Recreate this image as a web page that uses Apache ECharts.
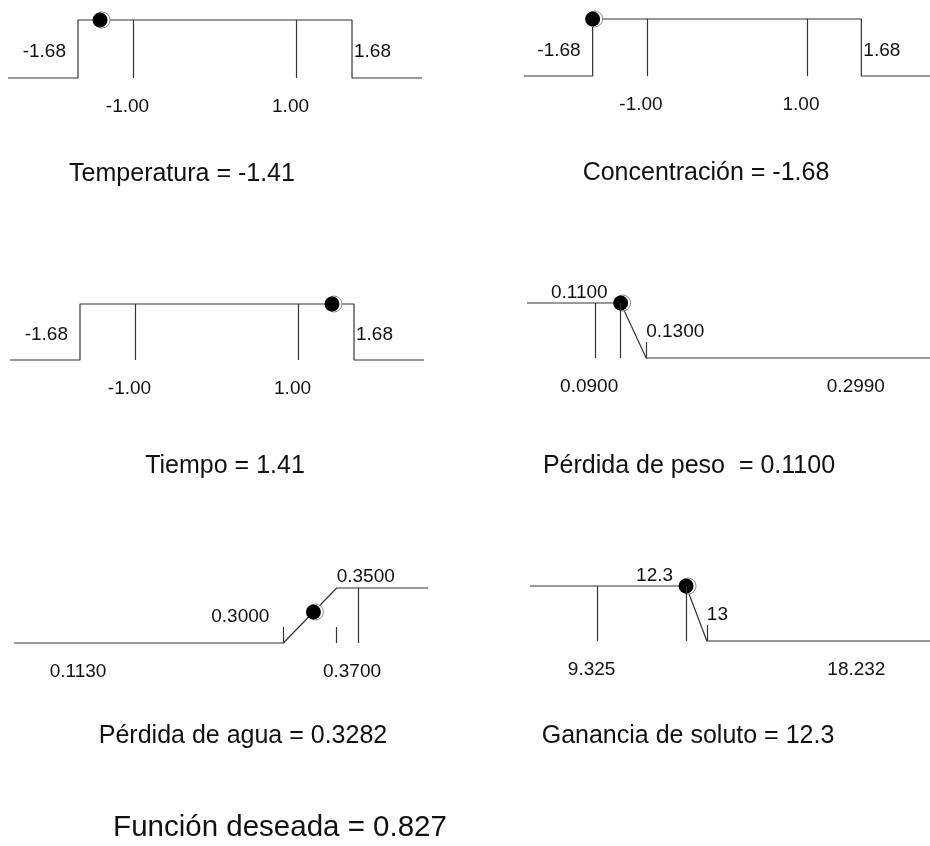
<!DOCTYPE html>
<html>
<head>
<meta charset="utf-8">
<script src="https://cdn.jsdelivr.net/npm/echarts@6/dist/echarts.min.js"></script>
<style>
  html, body { margin: 0; padding: 0; background: #fff; }
  #chart { width: 930px; height: 846px; }
</style>
</head>
<body>
<div id="chart"></div>
<script>
// ---------------- DATA ----------------
const factorNames = ['Temperatura', 'Concentración', 'Tiempo'];
const factorValues = [-1.41, -1.68, 1.41];
const factorValueLabels = ['-1.41', '-1.68', '1.41'];
const factorLimits = [-1.68, 1.68];
const factorLimitLabels = ['-1.68', '1.68'];
const factorLevels = [-1.00, 1.00];
const factorLevelLabels = ['-1.00', '1.00'];

const responseNames = ['Pérdida de peso ', 'Pérdida de agua', 'Ganancia de soluto'];
const responseGoals = ['minimize', 'maximize', 'minimize'];
const responseMin = [0.0900, 0.1130, 9.325];
const responseMax = [0.2990, 0.3700, 18.232];
const responseRangeLabels = [['0.0900', '0.2990'], ['0.1130', '0.3700'], ['9.325', '18.232']];
const responseLower = [0.1100, 0.3000, 12.3];
const responseUpper = [0.1300, 0.3500, 13];
const responseLimitLabels = [['0.1100', '0.1300'], ['0.3000', '0.3500'], ['12.3', '13']];
const responseValues = [0.1100, 0.3282, 12.3];
const responseValueLabels = ['0.1100', '0.3282', '12.3'];
// top (in desirability units) of the vertical marks drawn at lower / upper limits
const responseLimitMarkTops = [[1, 0.29], [0.29, 0.29], [1, 0.29]];

const overallName = 'Función deseada';
const overallValue = '0.827';

// ---------------- LAYOUT / STYLE ----------------
const FONT = '"Liberation Sans", Arial, Helvetica, sans-serif';
const INK = '#333';
const TXT = '#111';
const SPAN = 274, PAD = 70;
const TICK_BELOW = 0.3;
const panels = [
  { ax: 78,  top: 20,  base: 78,  tx: 182, ty: 174 },
  { ax: 594, top: 19,  base: 76,  tx: 706, ty: 173 },
  { ax: 80,  top: 304, base: 360, tx: 225, ty: 466 },
  { ax: 597, top: 303, base: 358, tx: 689, ty: 466 },
  { ax: 84,  top: 588, base: 643, tx: 243, ty: 736 },
  { ax: 600, top: 586, base: 641, tx: 688, ty: 736 }
];

function desir(goal, L, U, y) {
  if (goal === 'minimize') {
    if (y <= L) return 1;
    if (y >= U) return 0;
    return (U - y) / (U - L);
  }
  if (y <= L) return 0;
  if (y >= U) return 1;
  return (y - L) / (U - L);
}

const grids = [], xAxes = [], yAxes = [], series = [], texts = [];

function lbl(x, y, text, align, offset) {
  return {
    value: [x, y],
    label: {
      show: true, position: 'inside', align: align, verticalAlign: 'middle',
      offset: offset, formatter: text, color: TXT, opacity: 1, fontSize: 19, fontFamily: FONT
    }
  };
}

function addPanel(i, lo, hi, curve, verts, labels, dot, title) {
  const p = panels[i];
  const padV = (hi - lo) * PAD / SPAN;
  grids.push({ left: p.ax - PAD, top: p.top, width: SPAN + 2 * PAD, height: p.base - p.top });
  xAxes.push({ type: 'value', gridIndex: i, min: lo - padV, max: hi + padV, show: false });
  yAxes.push({ type: 'value', gridIndex: i, min: 0, max: 1, show: false });
  series.push({
    type: 'line', xAxisIndex: i, yAxisIndex: i, data: curve(lo - padV, hi + padV),
    symbol: 'none', clip: false, silent: true, animation: false,
    lineStyle: { color: INK, width: 1.2 },
    markLine: {
      symbol: ['none', 'none'], silent: true, animation: false,
      label: { show: false },
      lineStyle: { color: INK, width: 1.2, type: 'solid' },
      data: verts.map(v => [{ coord: [v[0], v[1]] }, { coord: [v[0], v[2]] }])
    }
  });
  series.push({
    type: 'scatter', xAxisIndex: i, yAxisIndex: i, data: labels,
    symbolSize: 1, itemStyle: { color: 'rgba(0,0,0,0)', opacity: 1 }, clip: false, silent: true, animation: false
  });
  series.push({
    type: 'scatter', xAxisIndex: i, yAxisIndex: i, data: [dot],
    symbol: 'circle', symbolSize: 16, symbolOffset: [2, 0], clip: false, silent: true, animation: false,
    itemStyle: { color: '#fff', borderColor: '#8a8a8a', borderWidth: 1, opacity: 1 }, z: 3
  });
  series.push({
    type: 'scatter', xAxisIndex: i, yAxisIndex: i, data: [dot],
    symbol: 'circle', symbolSize: 15, clip: false, silent: true, animation: false,
    itemStyle: { color: '#000', opacity: 1 }, z: 4
  });
  texts.push({
    type: 'text', x: p.tx, y: p.ty, silent: true,
    style: { text: title, fontSize: 25, fontFamily: FONT, fill: TXT, align: 'center', verticalAlign: 'middle' }
  });
}

// factor panels: layout indices 0,1,2
factorNames.forEach((name, k) => {
  const lo = factorLimits[0], hi = factorLimits[1];
  addPanel(k, lo, hi,
    (a, b) => [[a, 0], [lo, 0], [lo, 1], [hi, 1], [hi, 0], [b, 0]],
    factorLevels.map(v => [v, 0, 1]),
    [
      lbl(lo, 0.5, factorLimitLabels[0], 'right', [-12, 3]),
      lbl(hi, 0.5, factorLimitLabels[1], 'left', [2, 3]),
      lbl(factorLevels[0], 0, factorLevelLabels[0], 'center', [-6, 29]),
      lbl(factorLevels[1], 0, factorLevelLabels[1], 'center', [-6, 29])
    ],
    [factorValues[k], 1],
    name + ' = ' + factorValueLabels[k]
  );
});

// response panels: layout indices 3,4,5
responseNames.forEach((name, k) => {
  const g = responseGoals[k], L = responseLower[k], U = responseUpper[k];
  const mn = responseMin[k], mx = responseMax[k];
  const d = y => desir(g, L, U, y);
  const rangeMark = x => d(x) >= 1 ? [x, 1, 0] : [x, 0, -TICK_BELOW];
  const verts = [
    rangeMark(mn), rangeMark(mx),
    [L, 0, responseLimitMarkTops[k][0]],
    [U, 0, responseLimitMarkTops[k][1]]
  ];
  const limLbl = (x, text) => d(x) >= 1
    ? lbl(x, 1, text, g === 'minimize' ? 'right' : 'left', g === 'minimize' ? [-13, -10] : [0, -11])
    : lbl(x, 0, text, g === 'minimize' ? 'left' : 'right', g === 'minimize' ? [0, -26] : [-14, -26]);
  addPanel(3 + k, mn, mx,
    (a, b) => [[a, d(a)], [L, d(L)], [U, d(U)], [b, d(b)]],
    verts,
    [
      limLbl(L, responseLimitLabels[k][0]),
      limLbl(U, responseLimitLabels[k][1]),
      lbl(mn, 0, responseRangeLabels[k][0], 'center', [-6, 29]),
      lbl(mx, 0, responseRangeLabels[k][1], 'center', [-6, 29])
    ],
    [responseValues[k], d(responseValues[k])],
    name + ' = ' + responseValueLabels[k]
  );
});

texts.push({
  type: 'text', x: 280, y: 828, silent: true,
  style: { text: overallName + ' = ' + overallValue, fontSize: 29.5, fontFamily: FONT, fill: TXT, align: 'center', verticalAlign: 'middle' }
});

const chart = echarts.init(document.getElementById('chart'), null, { renderer: 'canvas' });
chart.setOption({
  backgroundColor: '#fff',
  animation: false,
  grid: grids,
  xAxis: xAxes,
  yAxis: yAxes,
  series: series,
  graphic: { elements: texts }
});
</script>
</body>
</html>
